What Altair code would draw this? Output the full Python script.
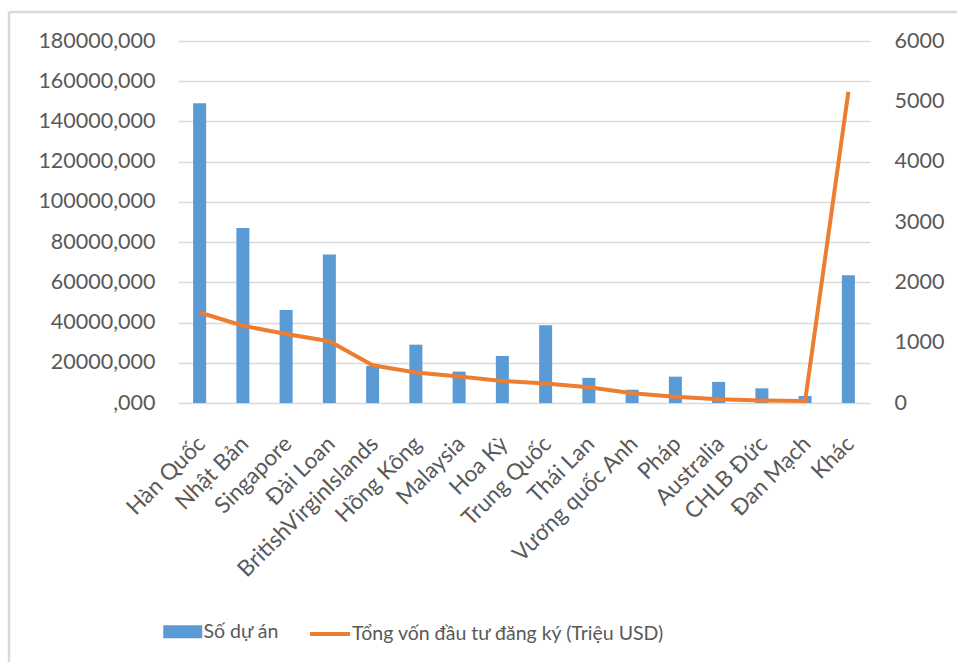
import altair as alt
import pandas as pd

categories = ["Hàn Quốc", "Nhật Bản", "Singapore", "Đài Loan", "BritishVirginIslands",
              "Hồng Kông", "Malaysia", "Hoa Kỳ", "Trung Quốc", "Thái Lan",
              "Vương quốc Anh", "Pháp", "Australia", "CHLB Đức", "Đan Mạch", "Khác"]
so_du_an = [149000, 87000, 46300, 73800, 18400, 29000, 15600, 23400, 38700, 12500,
            6600, 13100, 10500, 7300, 3500, 63500]
tong_von = [1500, 1280, 1145, 1025, 625, 505, 440, 365, 325, 260,
            160, 105, 62, 40, 33, 5160]

bar_name = "Số dự án"
line_name = "Tổng vốn đầu tư đăng ký (Triệu USD)"

df = pd.DataFrame({
    "cat": categories,
    "bars": so_du_an,
    "line": tong_von,
    "s_bar": [bar_name] * len(categories),
    "s_line": [line_name] * len(categories),
})

TXT = "#595959"
GRID = "#D9D9D9"
FONT = "Lato"
LFONT = "Lato"

x_enc = alt.X("cat:N", sort=categories, title=None,
              scale=alt.Scale(paddingInner=0, paddingOuter=0),
              axis=alt.Axis(labelAngle=-45, labelAlign="right", labelBaseline="middle",
                            labelPadding=37, labelOffset=2, ticks=False, domain=False,
                            labelFont=FONT, labelFontSize=22.5, labelColor=TXT,
                            labelLimit=400))

bars = alt.Chart(df).mark_bar(size=13, color="#5B9BD5").encode(
    x=x_enc,
    y=alt.Y("bars:Q", title=None,
            scale=alt.Scale(domain=[0, 180000], nice=False),
            axis=alt.Axis(values=list(range(0, 180001, 20000)),
                          labelExpr="datum.value == 0 ? ',000' : format(datum.value, 'd') + ',000'",
                          grid=True, gridColor=GRID, gridWidth=1.5,
                          ticks=False, domain=False, labelPadding=23,
                          labelFont=FONT, labelFontSize=21.5, labelColor=TXT)),
    color=alt.Color("s_bar:N", title=None,
                    scale=alt.Scale(domain=[bar_name], range=["#5B9BD5"]),
                    legend=alt.Legend(orient="none", legendX=-5, legendY=581,
                                      symbolType="M-3,-1L3,-1L3,1L-3,1Z",
                                      symbolSize=169, symbolStrokeWidth=0,
                                      labelOffset=11, labelLimit=500,
                                      labelFont=LFONT, labelFontSize=19.5,
                                      labelColor=TXT)),
)

line = alt.Chart(df).mark_line(strokeWidth=4, color="#ED7D31").encode(
    x=alt.X("cat:N", sort=categories),
    y=alt.Y("line:Q", title=None,
            scale=alt.Scale(domain=[0, 6000], nice=False),
            axis=alt.Axis(orient="right", values=list(range(0, 6001, 1000)), format="d",
                          grid=False, ticks=False, domain=False, labelPadding=24,
                          labelFont=FONT, labelFontSize=21.5, labelColor=TXT)),
    stroke=alt.Stroke("s_line:N", title=None,
                      scale=alt.Scale(domain=[line_name], range=["#ED7D31"]),
                      legend=alt.Legend(orient="none", legendX=130, legendY=571,
                                        symbolType="stroke", symbolSize=1600,
                                        symbolStrokeWidth=4, labelOffset=0,
                                        labelLimit=600,
                                        labelFont=LFONT, labelFontSize=19.5,
                                        labelColor=TXT)),
)

frame_df = pd.DataFrame({"a": [0]})
frame_left = alt.Chart(frame_df).mark_rule(color=GRID, strokeWidth=2.5).encode(
    x=alt.value(-169), y=alt.value(-29), y2=alt.value(700))
frame_top = alt.Chart(frame_df).mark_rule(color=GRID, strokeWidth=2.5).encode(
    x=alt.value(-169), x2=alt.value(800), y=alt.value(-29))

chart = alt.layer(bars, line, frame_left, frame_top).resolve_scale(
    y="independent", color="independent"
).properties(
    width=692, height=362,
    autosize=alt.AutoSizeParams(type="none"),
    padding={"left": 178, "top": 41, "right": 87, "bottom": 259},
    background="white",
).configure_view(stroke=None)

chart.save("out.html", embed_options={"renderer": "svg", "actions": False})
